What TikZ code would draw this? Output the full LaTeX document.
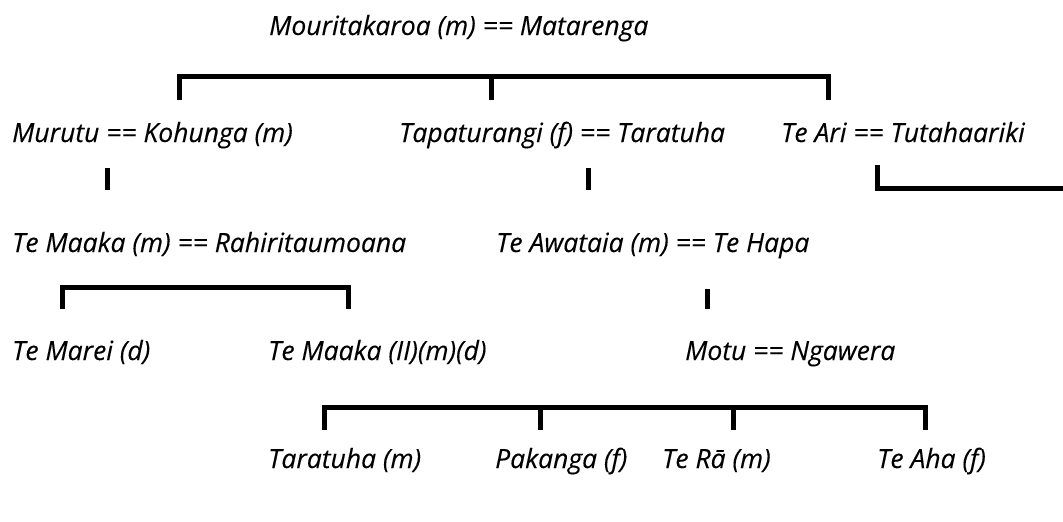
\documentclass[tikz,border=0pt]{standalone}
\usepackage{fontspec}
\setmainfont{Open Sans}[ItalicFeatures={FakeBold=0.2}]
\begin{document}
\begin{tikzpicture}[x=1pt,y=-1pt,
  lbl/.style={anchor=base west,inner sep=0pt,font=\itshape\fontsize{26.5}{30}\selectfont},
  ln/.style={line width=5pt,line join=miter,line cap=butt}]
\useasboundingbox (0,0) rectangle (1063,522);
% texts
\node[lbl] (mou) at (269,35) {Mouritakaroa (m) == Matarenga};
\node[lbl] (mur) at (12,142) {Murutu == Kohunga (m)};
\node[lbl] (tap) at (399,142) {Tapaturangi (f) == Taratuha};
\node[lbl] (ari) at (781,142) {Te Ari == Tutahaariki};
\node[lbl] (maa) at (12,252) {Te Maaka (m) == Rahiritaumoana};
\node[lbl] (awa) at (496,252) {Te Awataia (m) == Te Hapa};
\node[lbl] (mar) at (12,360) {Te Marei (d)};
\node[lbl] (maa2) at (268,360) {Te Maaka (II)(m)(d)};
\node[lbl] (mot) at (685,360) {Motu == Ngawera};
\node[lbl] (tar) at (268,468) {Taratuha (m)};
\node[lbl] (pak) at (495,468) {Pakanga (f)};
\node[lbl] (ra) at (662,468) {Te Rā (m)};
\node[lbl] (aha) at (877,468) {Te Aha (f)};
% coordinates
\coordinate (b1l) at (179,100);
\coordinate (b1m) at (491,100);
\coordinate (b1r) at (828,100);
\coordinate (t1a) at (107,168);
\coordinate (t1b) at (107,190);
\coordinate (t2a) at (588,168);
\coordinate (t2b) at (588,190);
\coordinate (ar1) at (877,165);
\coordinate (ar2) at (1063,188);
\coordinate (b2l) at (62,309);
\coordinate (b2r) at (348,309);
\coordinate (t3a) at (707,289);
\coordinate (t3b) at (707,309);
\coordinate (b3a) at (324,430);
\coordinate (b3b) at (540,430);
\coordinate (b3c) at (733,430);
\coordinate (b3d) at (925,430);
% lines
\draw[ln] (b1l) |- (491,76) -| (b1r);
\draw[ln] (b1m) -- (491,76);
\draw[ln] (t1a) -- (t1b);
\draw[ln] (t2a) -- (t2b);
\draw[ln] (ar1) |- (ar2);
\draw[ln] (b2l) |- (200,287) -| (b2r);
\draw[ln] (t3a) -- (t3b);
\draw[ln] (b3a) |- (600,407) -| (b3d);
\draw[ln] (b3b) -- (540,407);
\draw[ln] (b3c) -- (733,407);
\end{tikzpicture}
\end{document}
